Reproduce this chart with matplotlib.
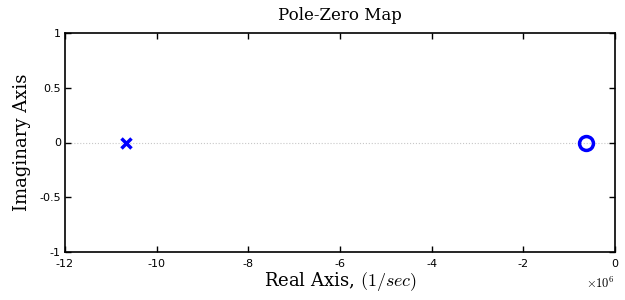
import matplotlib
matplotlib.use("Agg")
import matplotlib.pyplot as plt

# pole / zero locations (real part, imag part)
pole_re = [-10.67e6]
pole_im = [0.0]
zero_re = [-0.63e6]
zero_im = [0.0]

xlim = (-12e6, 0)
ylim = (-1, 1)
xticks = [-12e6, -10e6, -8e6, -6e6, -4e6, -2e6, 0]
yticks = [-1, -0.5, 0, 0.5, 1]

plt.rcParams['mathtext.fontset'] = 'cm'

fig = plt.figure(figsize=(6.25, 3.0), dpi=100)
ax = fig.add_axes([65 / 625, 48 / 300, 550 / 625, 219 / 300])

ax.axhline(0, color='#c8c8c8', lw=0.8, ls=':', zorder=1)
ax.plot(pole_re, pole_im, ls='none', marker='x', color='blue', ms=7, mew=2.5, zorder=3)
ax.plot(zero_re, zero_im, ls='none', marker='o', mfc='none', mec='blue', ms=10, mew=2.5, zorder=3)

ax.set_xlim(xlim)
ax.set_ylim(ylim)
ax.set_xticks(xticks)
ax.set_xticklabels(['-12', '-10', '-8', '-6', '-4', '-2', '0'])
ax.set_yticks(yticks)
ax.set_yticklabels(['-1', '-0.5', '0', '0.5', '1'])
ax.tick_params(direction='in', top=True, right=True, length=4, width=1, labelsize=8)
ax.tick_params(axis='x', pad=5)
ax.tick_params(axis='y', pad=3)
for s in ax.spines.values():
    s.set_linewidth(1.2)

ax.text(1.0, -0.11, r'$\times10^6$', transform=ax.transAxes, ha='right', va='top', fontsize=9)

ax.set_title('Pole-Zero Map', family='DejaVu Serif', fontsize=12, weight='medium', pad=9)
ax.set_xlabel(r'Real Axis, $(1/sec)$', family='serif', fontsize=13, labelpad=1)
ax.set_ylabel('Imaginary Axis', family='serif', fontsize=13, labelpad=6)

fig.savefig('out.png', dpi=100)
